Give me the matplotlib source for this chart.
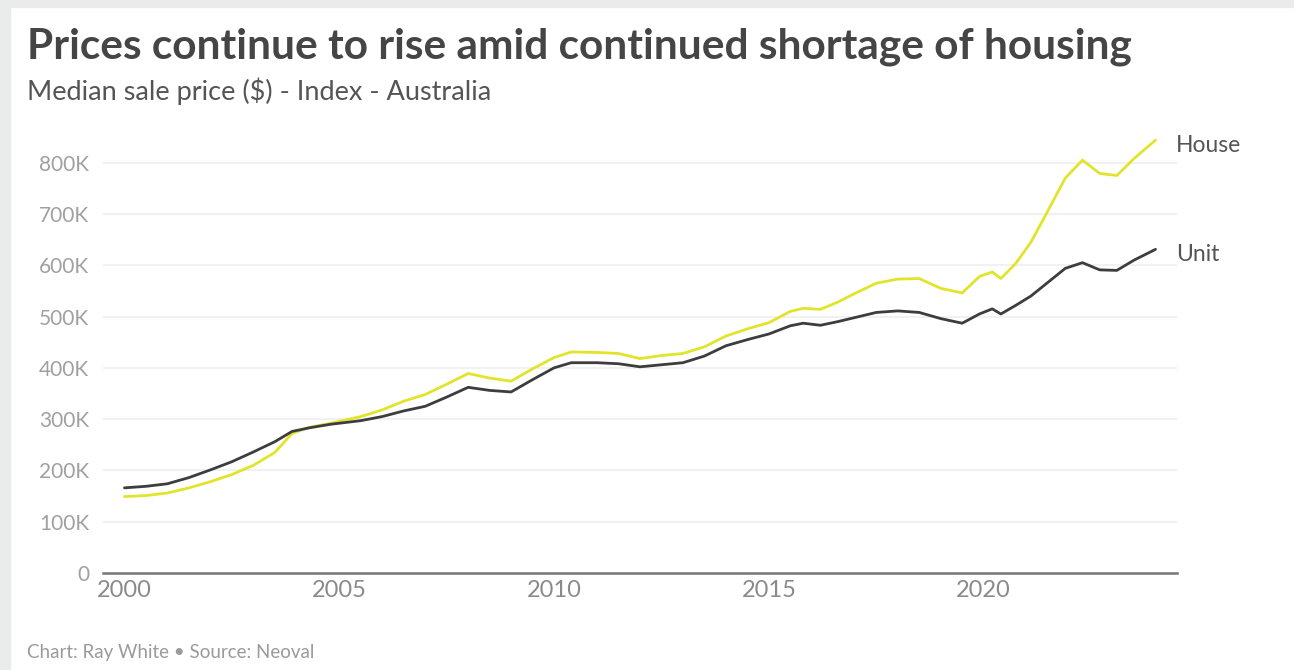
import matplotlib
matplotlib.use("Agg")
import matplotlib.pyplot as plt
from matplotlib.ticker import FuncFormatter
from matplotlib.patches import Rectangle

# data (thousands of $)
years = [2000.0, 2000.5, 2001.0, 2001.5, 2002.0, 2002.5, 2003.0, 2003.5, 2003.9,
         2004.3, 2004.8, 2005.5, 2006.0, 2006.5, 2007.0, 2007.5, 2008.0, 2008.5,
         2009.0, 2009.5, 2010.0, 2010.4, 2011.0, 2011.5, 2012.0, 2012.5, 2013.0,
         2013.5, 2014.0, 2014.5, 2015.0, 2015.5, 2015.8, 2016.2, 2016.6, 2017.0,
         2017.5, 2018.0, 2018.5, 2019.0, 2019.5, 2019.9, 2020.2, 2020.4, 2020.75,
         2021.1, 2021.5, 2021.9, 2022.3, 2022.7, 2023.1, 2023.5, 2024.0]
house = [149, 151, 156, 166, 178, 192, 210, 235, 272,
         284, 292, 305, 318, 335, 348, 368, 389, 380,
         374, 398, 420, 431, 430, 428, 418, 424, 428,
         441, 462, 476, 488, 510, 516, 514, 528, 545,
         565, 573, 574, 555, 546, 578, 587, 574, 604,
         645, 707, 770, 805, 779, 775, 808, 844]
unit = [166, 169, 174, 186, 201, 217, 236, 256, 276,
        283, 290, 297, 305, 316, 325, 343, 362, 356,
        353, 377, 400, 410, 410, 408, 402, 406, 410,
        423, 443, 455, 466, 482, 487, 483, 490, 498,
        508, 511, 508, 496, 487, 505, 515, 505, 522,
        540, 567, 594, 605, 591, 590, 610, 631]
yticks = [0, 100, 200, 300, 400, 500, 600, 700, 800]
xticks = [2000, 2005, 2010, 2015, 2020]

house_col = "#e2e42c"
unit_col = "#3d3d3f"

plt.rcParams["font.family"] = ["Lato", "DejaVu Sans"]

fig = plt.figure(figsize=(12.94, 6.70), dpi=100)
# grey frame on top and left
fig.patches.append(Rectangle((0, 1 - 7 / 670), 1, 7 / 670, transform=fig.transFigure,
                             color="#eaebeb", zorder=0))
fig.patches.append(Rectangle((0, 0), 10 / 1294, 1, transform=fig.transFigure,
                             color="#eaebeb", zorder=0))

ax = fig.add_axes([103 / 1294, 97 / 670, (1177 - 103) / 1294, 0.6507])
ax.plot(years, [v * 1000 for v in house], color=house_col, lw=2.0, solid_capstyle="round")
ax.plot(years, [v * 1000 for v in unit], color=unit_col, lw=2.0, solid_capstyle="round")

ax.set_xlim(1999.5, 2024.5)
ax.set_ylim(0, 850000)
ax.set_yticks([v * 1000 for v in yticks])
ax.set_xticks(xticks)
ax.yaxis.set_major_formatter(FuncFormatter(lambda v, p: "0" if v == 0 else "%dK" % (v / 1000)))
ax.grid(axis="y", color="#efefef", lw=1.2)
ax.set_axisbelow(True)
for s in ["top", "right", "left"]:
    ax.spines[s].set_visible(False)
ax.spines["bottom"].set_color("#777777")
ax.spines["bottom"].set_linewidth(1.8)
ax.tick_params(axis="y", length=0, pad=10, labelsize=15, labelcolor="#a0a0a0")
ax.tick_params(axis="x", length=0, pad=5, labelsize=17, labelcolor="#8a8a8a")

# end labels
ax.annotate("House", xy=(years[-1], house[-1] * 1000), xytext=(14.5, -4),
            textcoords="offset points", va="center", ha="left",
            fontsize=16.5, color="#555555", annotation_clip=False)
ax.annotate("Unit", xy=(years[-1], unit[-1] * 1000), xytext=(14.5, -4),
            textcoords="offset points", va="center", ha="left",
            fontsize=16.5, color="#555555", annotation_clip=False)

fig.text(27 / 1294, 1 - 59 / 670, "Prices continue to rise amid continued shortage of housing",
         fontsize=30.5, fontweight="bold", color="#454545", va="baseline")
fig.text(27 / 1294, 1 - 100 / 670, "Median sale price ($) - Index - Australia",
         fontsize=19.5, color="#555555", va="baseline")
fig.text(27 / 1294, 1 - 658 / 670, "Chart: Ray White \u2022 Source: Neoval",
         fontsize=13.5, color="#9a9a9a", va="baseline")

fig.savefig("out.png", dpi=100)
plt.close(fig)
